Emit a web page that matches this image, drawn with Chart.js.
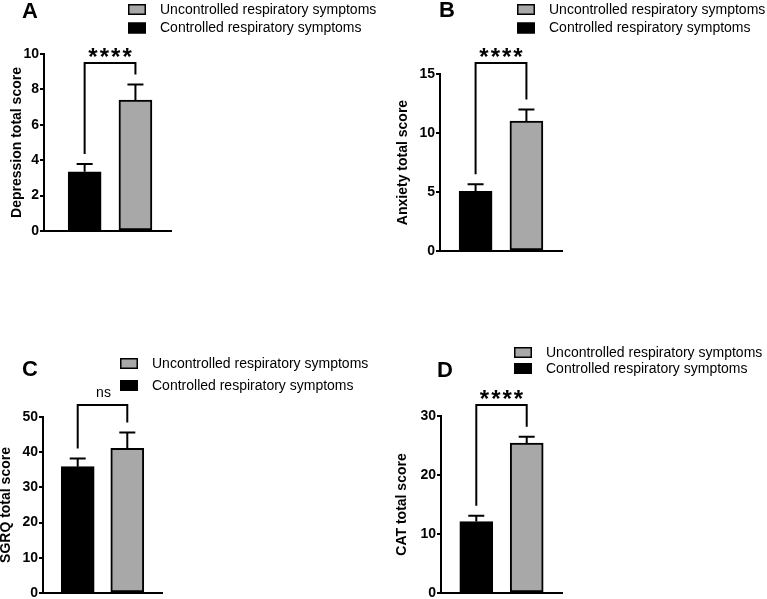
<!DOCTYPE html>
<html>
<head>
<meta charset="utf-8">
<script src="https://cdn.jsdelivr.net/npm/chart.js@4.4.1/dist/chart.umd.min.js"></script>
<style>
  html, body { margin: 0; padding: 0; background: #fff; overflow: hidden; }
  .wrap { position: relative; width: 767px; height: 599px; overflow: hidden; }
  .wrap canvas { position: absolute; }
</style>
</head>
<body>
<div class="wrap">
  <canvas id="chart-a" width="384" height="300" style="left:0;top:0"></canvas>
  <canvas id="chart-b" width="383" height="300" style="left:384px;top:0"></canvas>
  <canvas id="chart-c" width="384" height="310" style="left:0;top:300px"></canvas>
  <canvas id="chart-d" width="383" height="310" style="left:384px;top:300px"></canvas>
</div>
<script>
// groups, in bar order (left to right)
const groups = ["Controlled respiratory symptoms", "Uncontrolled respiratory symptoms"];
const legendOrder = ["Uncontrolled respiratory symptoms", "Controlled respiratory symptoms"];

// mean and SEM
const depressionMean = [3.35, 7.4];
const depressionSem = [0.43, 0.88];
const anxietyMean = [5.05, 11.0];
const anxietySem = [0.6, 1.0];
const sgrqMean = [35.9, 41.1];
const sgrqSem = [2.3, 4.5];
const catMean = [12.1, 25.4];
const catSem = [1.0, 1.1];

const significance = ["****", "****", "ns", "****"];

const barColors = ["#000000", "#a8a8a8"];
const FONT = "'Liberation Sans', Arial, Helvetica, sans-serif";

const panelDecor = {
  id: "panelDecor",
  afterDatasetsDraw(chart, args, opts) {
    const ctx = chart.ctx;
    const yScale = chart.scales.y;
    const bars = chart.getDatasetMeta(0).data;
    const tops = opts.mean.map((v, i) => yScale.getPixelForValue(v + opts.sem[i]));

    ctx.save();
    ctx.strokeStyle = "#000";
    ctx.lineWidth = 2;
    ctx.lineCap = "butt";

    // error bars (upper only)
    bars.forEach((bar, i) => {
      ctx.beginPath();
      ctx.moveTo(bar.x, bar.y);
      ctx.lineTo(bar.x, tops[i]);
      ctx.moveTo(bar.x - 8, tops[i]);
      ctx.lineTo(bar.x + 8, tops[i]);
      ctx.stroke();
    });

    // significance bracket
    ctx.beginPath();
    ctx.moveTo(bars[0].x, tops[0] - 10);
    ctx.lineTo(bars[0].x, opts.bracketY);
    ctx.lineTo(bars[1].x, opts.bracketY);
    ctx.lineTo(bars[1].x, tops[1] - 10);
    ctx.stroke();

    const midX = (bars[0].x + bars[1].x) / 2;
    ctx.fillStyle = "#000";
    ctx.textAlign = "center";
    ctx.textBaseline = "alphabetic";
    if (opts.sig === "ns") {
      ctx.font = "14px " + FONT;
      ctx.fillText(opts.sig, midX + 1, opts.bracketY - 8);
    } else {
      ctx.font = "bold 24px " + FONT;
      ctx.letterSpacing = "2px";
      ctx.fillText(opts.sig, midX + 1, opts.bracketY + 2);
      ctx.letterSpacing = "0px";
    }

    // panel letter
    ctx.textAlign = "left";
    ctx.font = "bold 22px " + FONT;
    ctx.fillText(opts.letter, opts.letterX, opts.letterY);

    // legend
    ctx.font = "14px " + FONT;
    ctx.textBaseline = "middle";
    legendOrder.forEach((name, i) => {
      const by = opts.legendY + i * opts.legendGap;
      const color = barColors[groups.indexOf(name)];
      ctx.fillStyle = color;
      ctx.fillRect(opts.legendX, by, 18, 11);
      ctx.lineWidth = 1.5;
      ctx.strokeStyle = "#000";
      ctx.strokeRect(opts.legendX + 0.75, by + 0.75, 16.5, 9.5);
      ctx.fillStyle = "#000";
      ctx.fillText(name, opts.legendX + 32, by + 6);
    });
    ctx.restore();
  },
};

function makePanel(id, mean, sem, yTitle, yMax, yStep, p) {
  return new Chart(document.getElementById(id), {
    type: "bar",
    data: {
      datasets: [
        {
          label: yTitle,
          data: mean.map((v, i) => ({ x: i + 1, y: v })),
          backgroundColor: barColors,
          borderColor: "#000",
          borderWidth: 2,
          borderSkipped: false,
          barThickness: 33,
        },
      ],
    },
    options: {
      responsive: false,
      animation: false,
      events: [],
      layout: { padding: p.padding },
      plugins: {
        legend: { display: false },
        tooltip: { enabled: false },
        panelDecor: { mean, sem, ...p.decor },
      },
      scales: {
        x: {
          type: "linear",
          offset: false,
          min: p.xMin,
          max: p.xMax,
          grid: { display: false },
          border: { display: true, color: "#000", width: 2 },
          ticks: { display: false },
          afterFit: (s) => {
            s.height = 0;
          },
        },
        y: {
          min: 0,
          max: yMax,
          ticks: {
            stepSize: yStep,
            color: "#000",
            padding: 1,
            font: { family: FONT, size: 14, weight: "bold" },
          },
          grid: {
            drawOnChartArea: false,
            drawTicks: true,
            tickLength: 4,
            color: "#000",
            lineWidth: 2,
          },
          border: { display: true, color: "#000", width: 2 },
          title: {
            display: true,
            text: yTitle,
            color: "#000",
            font: { family: FONT, size: 14, weight: "bold" },
            padding: { top: p.titlePad, bottom: 0 },
          },
          afterFit: (s) => {
            s.width = p.axisW;
          },
        },
      },
    },
    plugins: [panelDecor],
  });
}

const chartA = makePanel("chart-a", depressionMean, depressionSem, "Depression total score", 10, 2, {
  padding: { left: 0, top: 54, right: 213, bottom: 69 },
  axisW: 44,
  titlePad: 9,
  xMin: 0.2,
  xMax: 2.7,
  decor: { sig: significance[0], bracketY: 63, letter: "A", letterX: 22, letterY: 17.5, legendX: 128, legendY: 4, legendGap: 18.5 },
});

const chartB = makePanel("chart-b", anxietyMean, anxietySem, "Anxiety total score", 15, 5, {
  padding: { left: 0, top: 74, right: 205, bottom: 49 },
  axisW: 56,
  titlePad: 11,
  xMin: 0.3,
  xMax: 2.7,
  decor: { sig: significance[1], bracketY: 63, letter: "B", letterX: 55, letterY: 16.7, legendX: 133, legendY: 4, legendGap: 18.5 },
});

const chartC = makePanel("chart-c", sgrqMean, sgrqSem, "SGRQ total score", 50, 10, {
  padding: { left: 0, top: 117, right: 222, bottom: 17 },
  axisW: 43,
  titlePad: -2,
  xMin: 0.3,
  xMax: 2.7,
  decor: { sig: significance[2], bracketY: 105, letter: "C", letterX: 22, letterY: 76, legendX: 120, legendY: 58, legendGap: 22 },
});

const chartD = makePanel("chart-d", catMean, catSem, "CAT total score", 30, 10, {
  padding: { left: 0, top: 116, right: 205, bottom: 17 },
  axisW: 57,
  titlePad: 10,
  xMin: 0.3,
  xMax: 2.7,
  decor: { sig: significance[3], bracketY: 105, letter: "D", letterX: 53, letterY: 77, legendX: 130, legendY: 47, legendGap: 16 },
});
</script>
</body>
</html>
